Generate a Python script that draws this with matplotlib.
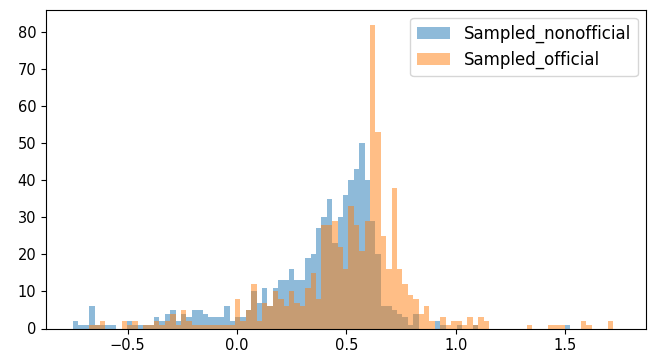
import numpy as np
import matplotlib
matplotlib.use("Agg")
import matplotlib.pyplot as plt

# bordes comunes de los 100 bins
bin_edges = np.linspace(-0.75, 1.72, 101)

# cuentas (Sampled_nonofficial)
counts_nonofficial = [
    2, 1, 1, 6, 1, 1, 1, 1, 0, 0,
    2, 1, 1, 1, 1, 3, 2, 4, 5, 2,
    4, 3, 5, 5, 4, 3, 3, 3, 6, 2,
    3, 3, 5, 10, 7, 11, 6, 11, 13, 13,
    16, 13, 13, 19, 20, 27, 30, 35, 23, 30,
    36, 40, 43, 50, 40, 29, 20, 6, 6, 5,
    4, 3, 1, 4, 0, 0, 0, 2, 1, 0,
    0, 1, 0, 0, 1, 0, 0, 0, 0, 0,
    0, 0, 0, 0, 0, 0, 0, 0, 0, 0,
    0, 1, 0, 0, 0, 0, 0, 0, 0, 0,
]

# cuentas (Sampled_official)
counts_official = [
    0, 0, 0, 1, 1, 2, 0, 0, 0, 2,
    1, 2, 0, 1, 1, 2, 1, 2, 4, 1,
    5, 2, 1, 1, 1, 1, 1, 1, 1, 1,
    8, 2, 5, 12, 2, 7, 6, 10, 8, 6,
    10, 7, 6, 11, 15, 8, 28, 28, 29, 22,
    16, 33, 28, 21, 29, 82, 53, 25, 16, 38,
    16, 12, 9, 8, 4, 6, 2, 0, 3, 1,
    2, 2, 1, 3, 1, 3, 2, 0, 0, 0,
    0, 0, 0, 0, 1, 0, 0, 0, 1, 1,
    1, 0, 0, 0, 2, 1, 0, 0, 0, 2,
]

labels = ['Sampled_nonofficial', 'Sampled_official']

fig = plt.figure(figsize=(6.58, 3.58), dpi=100)
ax = fig.add_axes([46 / 658, 1 - 328.5 / 358, 600 / 658, 319 / 358])

centers = (bin_edges[:-1] + bin_edges[1:]) / 2
ax.hist(centers, bins=bin_edges, weights=counts_nonofficial, alpha=0.5, label=labels[0])
ax.hist(centers, bins=bin_edges, weights=counts_official, alpha=0.5, label=labels[1])

ax.set_xlim(-0.873, 1.87)
ax.tick_params(labelsize=10.5)
ax.legend(loc='upper right', fontsize=12)

fig.savefig('out.png', dpi=100)
